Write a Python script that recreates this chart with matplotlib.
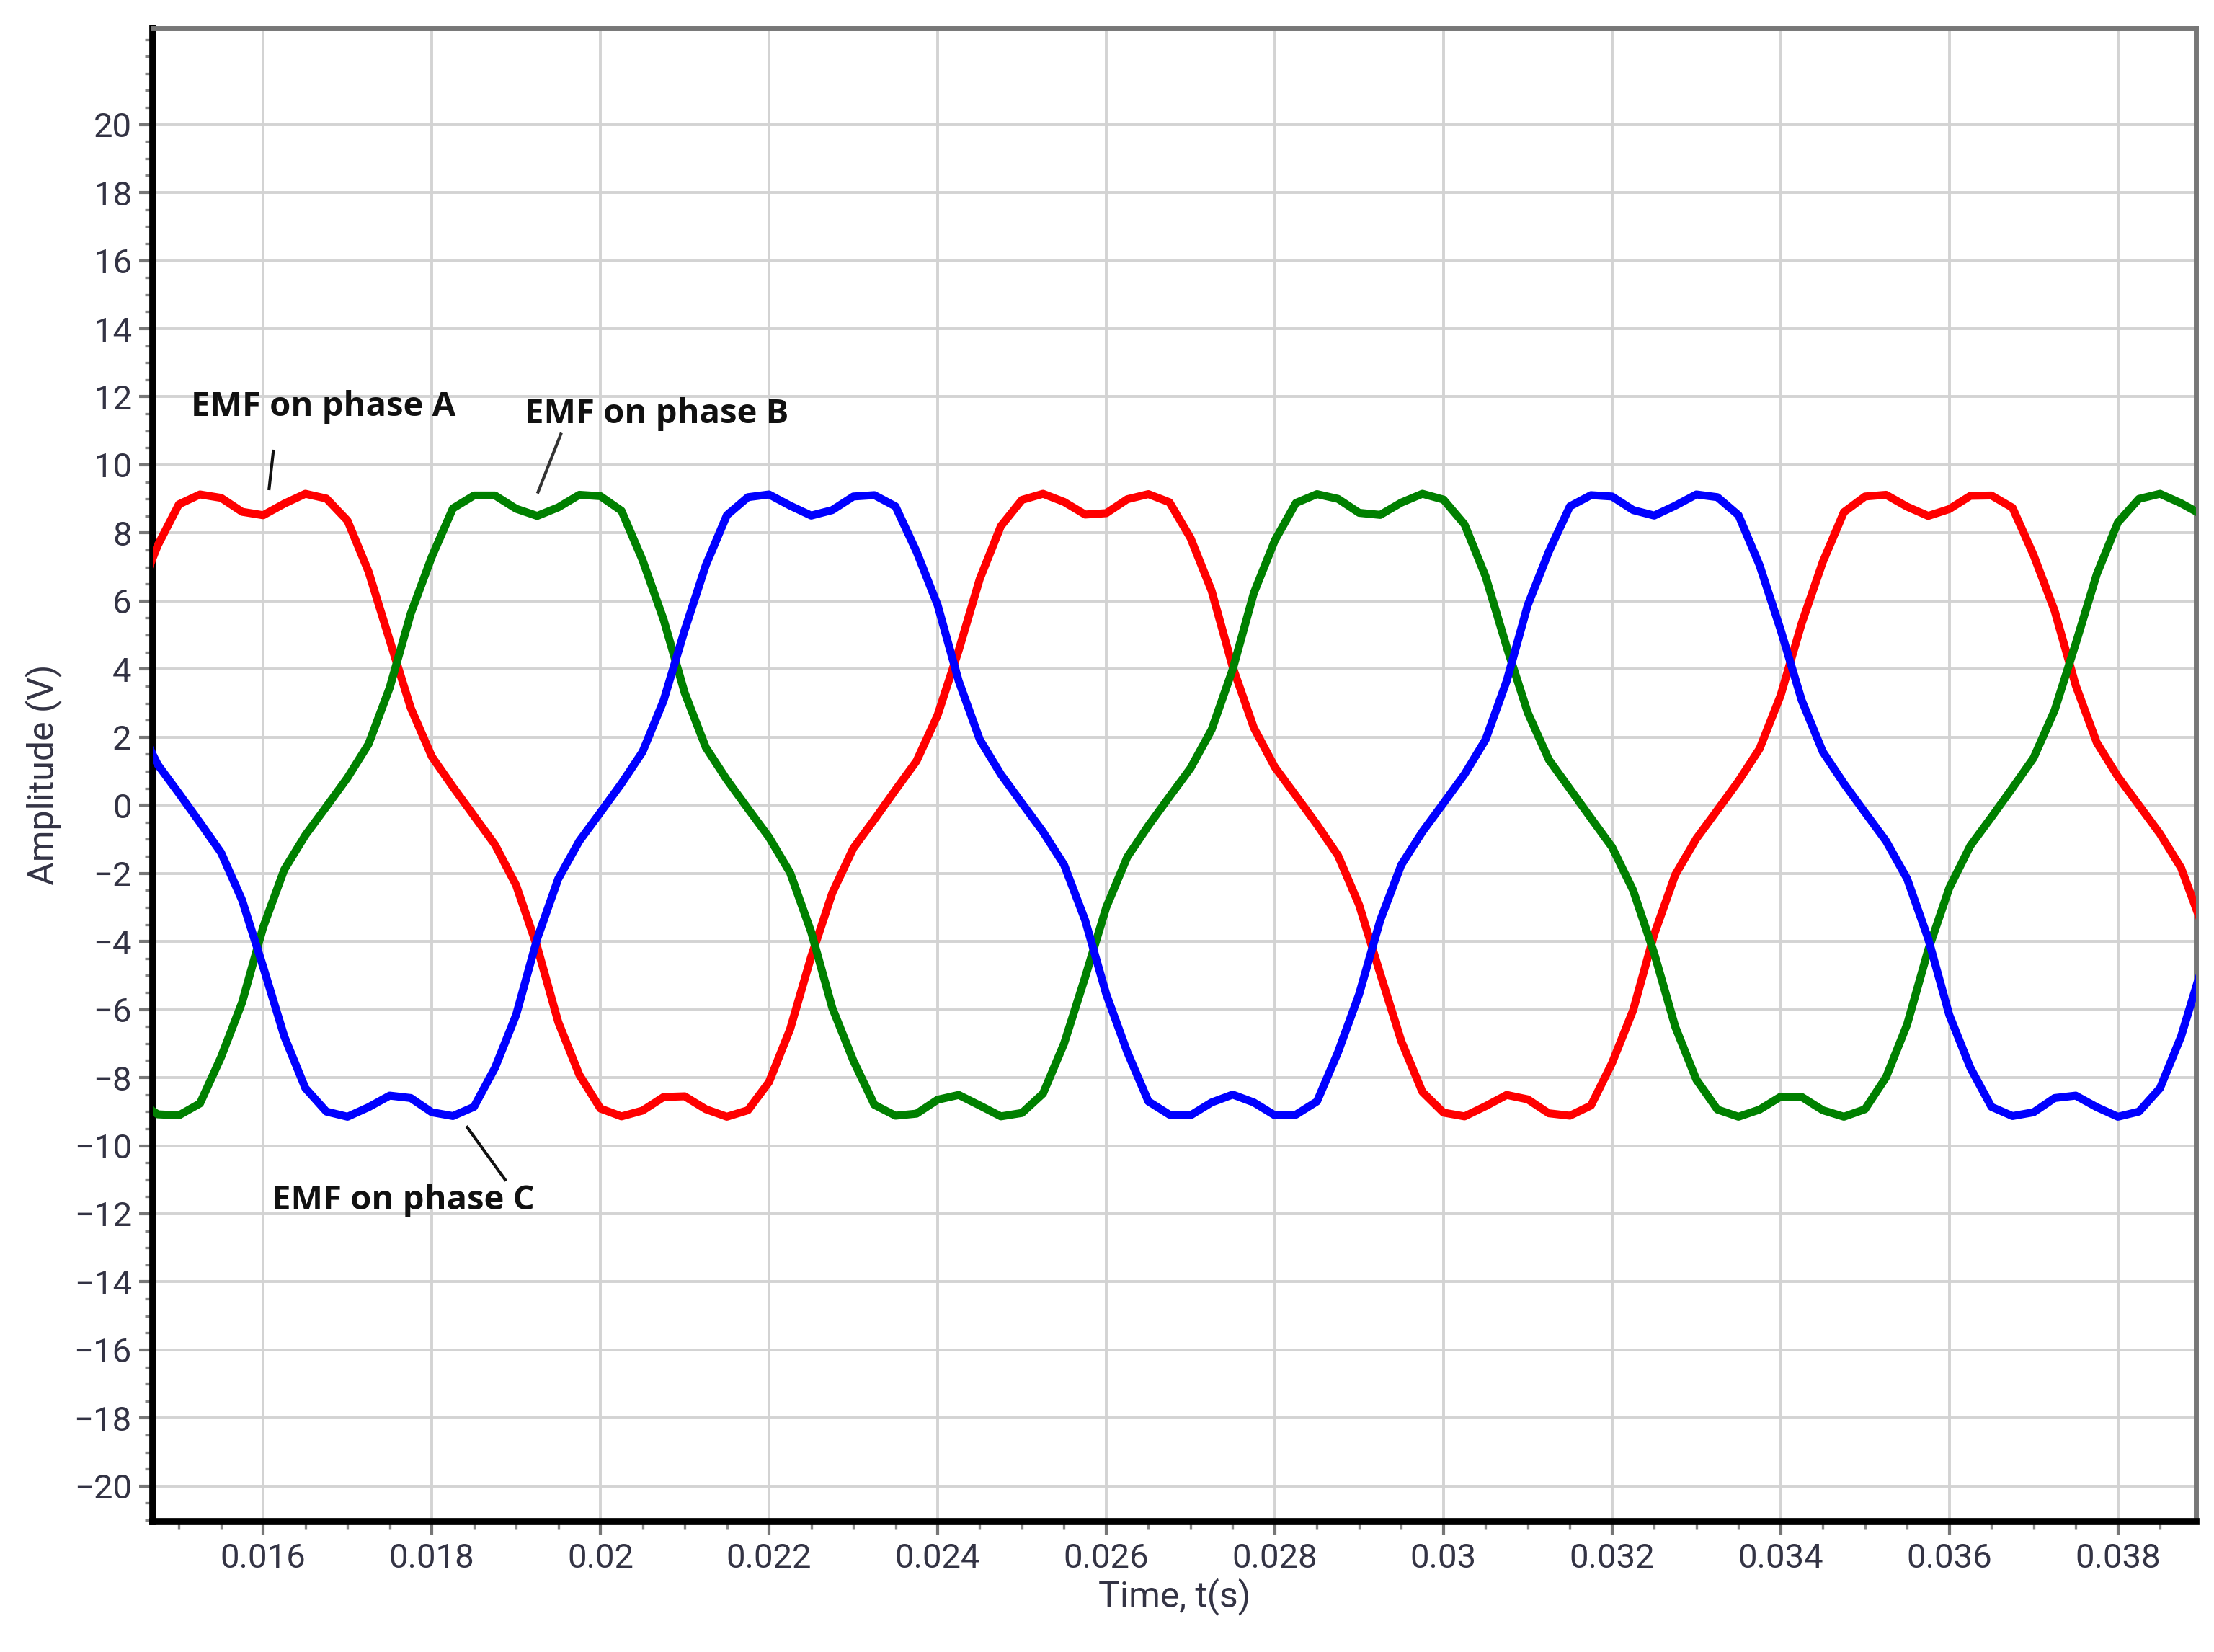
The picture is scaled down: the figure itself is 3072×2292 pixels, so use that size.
import matplotlib
matplotlib.use("Agg")
import matplotlib.pyplot as plt
import numpy as np
from matplotlib.ticker import MultipleLocator, FixedLocator

# time in ms
t_ms = [14.50 + 0.25 * i for i in range(99)]
emf_a = [6.09, 7.64, 8.84, 9.13, 9.03, 8.62, 8.52, 8.86, 9.15, 9.01, 8.36, 6.86, 4.85, 2.86, 1.43, 0.54,
         -0.31, -1.16, -2.35, -4.16, -6.37, -7.92, -8.91, -9.14, -8.97, -8.57, -8.55, -8.93, -9.15, -8.96,
         -8.13, -6.58, -4.45, -2.58, -1.26, -0.42, 0.45, 1.30, 2.65, 4.55, 6.65, 8.20, 8.97, 9.15, 8.91,
         8.54, 8.58, 8.99, 9.14, 8.90, 7.85, 6.30, 4.06, 2.28, 1.12, 0.28, -0.57, -1.48, -2.93, -4.95,
         -6.93, -8.42, -9.03, -9.14, -8.84, -8.51, -8.64, -9.05, -9.12, -8.82, -7.57, -6.02, -3.79, -2.04,
         -0.98, -0.14, 0.71, 1.66, 3.23, 5.35, 7.15, 8.61, 9.07, 9.12, 8.77, 8.50, 8.70, 9.09, 9.10, 8.74,
         7.35, 5.71, 3.52, 1.84, 0.84, 0.00, -0.84, -1.84, -3.52]
emf_b = [-8.68, -9.08, -9.11, -8.76, -7.40, -5.79, -3.58, -1.89, -0.88, -0.04, 0.81, 1.80, 3.45, 5.63,
         7.30, 8.72, 9.10, 9.10, 8.71, 8.50, 8.75, 9.12, 9.08, 8.65, 7.20, 5.45, 3.30, 1.70, 0.75, -0.10,
         -0.94, -1.98, -3.72, -5.95, -7.50, -8.80, -9.12, -9.06, -8.65, -8.51, -8.82, -9.14, -9.04, -8.47,
         -7.00, -5.05, -3.00, -1.52, -0.60, 0.25, 1.09, 2.22, 3.99, 6.23, 7.78, 8.88, 9.14, 9.00, 8.59,
         8.53, 8.89, 9.15, 8.98, 8.25, 6.72, 4.65, 2.72, 1.34, 0.48, -0.38, -1.23, -2.50, -4.35, -6.51,
         -8.06, -8.94, -9.15, -8.94, -8.56, -8.57, -8.96, -9.15, -8.93, -7.99, -6.44, -4.25, -2.43, -1.19,
         -0.35, 0.51, 1.39, 2.79, 4.75, 6.79, 8.31, 9.00, 9.15, 8.87, 8.53]
emf_c = [2.43, 1.19, 0.35, -0.51, -1.39, -2.79, -4.75, -6.79, -8.31, -9.00, -9.15, -8.87, -8.53, -8.60,
         -9.02, -9.13, -8.86, -7.71, -6.16, -3.92, -2.16, -1.05, -0.21, 0.64, 1.57, 3.08, 5.15, 7.05,
         8.52, 9.05, 9.13, 8.80, 8.51, 8.67, 9.07, 9.11, 8.78, 7.45, 5.88, 3.65, 1.93, 0.91, 0.06, -0.78,
         -1.75, -3.38, -5.55, -7.25, -8.70, -9.09, -9.11, -8.73, -8.50, -8.73, -9.11, -9.09, -8.70, -7.25,
         -5.55, -3.38, -1.75, -0.78, 0.06, 0.91, 1.93, 3.65, 5.88, 7.45, 8.78, 9.11, 9.07, 8.67, 8.51,
         8.80, 9.13, 9.05, 8.52, 7.05, 5.15, 3.08, 1.57, 0.64, -0.21, -1.05, -2.16, -3.92, -6.16, -7.71,
         -8.86, -9.13, -9.02, -8.60, -8.53, -8.87, -9.15, -9.00, -8.31, -6.79, -4.75]

x_ticks = [0.016, 0.018, 0.020, 0.022, 0.024, 0.026, 0.028, 0.030, 0.032, 0.034, 0.036, 0.038]
x_tick_labels = ["0.016", "0.018", "0.02", "0.022", "0.024", "0.026", "0.028", "0.03",
                 "0.032", "0.034", "0.036", "0.038"]
y_ticks = list(range(-20, 21, 2))
y_tick_labels = [("\u2212" + str(-v)) if v < 0 else str(v) for v in y_ticks]

t = np.array(t_ms) / 1000.0

fig = plt.figure(figsize=(15.36, 11.46), dpi=200)
ax = fig.add_axes([0.069, 0.079, 0.923, 0.904])
ax.set_xlim(0.01469, 0.03893)
ax.set_ylim(-21.04, 22.83)

ax.grid(True, color="#d3d3d3", lw=1.4, zorder=0)
ax.set_axisbelow(True)

lw = 4.0
ax.plot(t, emf_a, color="#ff0000", lw=lw, zorder=3, solid_joinstyle="round")
ax.plot(t, emf_b, color="#008000", lw=lw, zorder=3, solid_joinstyle="round")
ax.plot(t, emf_c, color="#0000ff", lw=lw, zorder=3, solid_joinstyle="round")

ax.xaxis.set_major_locator(FixedLocator(x_ticks))
ax.set_xticklabels(x_tick_labels)
ax.yaxis.set_major_locator(FixedLocator(y_ticks))
ax.set_yticklabels(y_tick_labels)
ax.xaxis.set_minor_locator(MultipleLocator(0.0005))
ax.yaxis.set_minor_locator(MultipleLocator(0.5))

lab_col = "#333344"
ax.tick_params(axis="both", which="major", labelsize=17, colors="#777777", labelcolor=lab_col,
               length=7, width=1.5)
ax.tick_params(axis="both", which="minor", colors="#888888", length=4, width=1.2)
for lbl in ax.get_xticklabels() + ax.get_yticklabels():
    lbl.set_fontfamily("Roboto")

for s in ["left", "bottom"]:
    ax.spines[s].set_color("black")
    ax.spines[s].set_linewidth(3.5)
for s in ["top", "right"]:
    ax.spines[s].set_color("#777777")
    ax.spines[s].set_linewidth(2.5)

ax.set_xlabel("Time, t(s)", fontsize=18, color=lab_col, family="Roboto", labelpad=2)
ax.set_ylabel("Amplitude (V)", fontsize=18, color=lab_col, family="Roboto", labelpad=6)

fnt = dict(fontsize=17, fontweight="bold", family="Open Sans", color="#111111", va="center", ha="left")
ax.text(0.01514, 11.7, "EMF on phase A", **fnt)
ax.text(0.01910, 11.5, "EMF on phase B", **fnt)
ax.text(0.01610, -11.6, "EMF on phase C", **fnt)
ax.plot([0.01612, 0.01607], [10.4, 9.3], color="#111111", lw=1.5, zorder=4)
ax.plot([0.01953, 0.01926], [10.9, 9.2], color="#333333", lw=1.5, zorder=4)
ax.plot([0.01887, 0.01842], [-11.0, -9.46], color="#111111", lw=1.5, zorder=4)

fig.savefig("out.png", dpi=200, facecolor="white")
